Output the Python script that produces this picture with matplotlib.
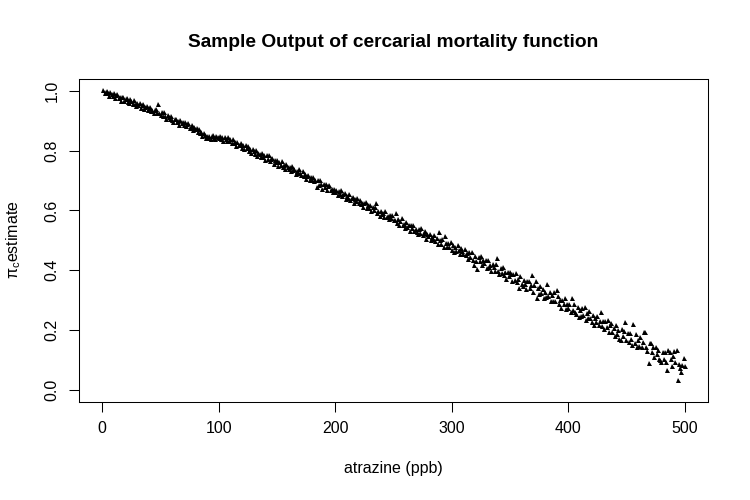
import matplotlib
matplotlib.use('Agg')

import matplotlib.pyplot as plt

plt.rcParams['font.family'] = ['Liberation Sans', 'DejaVu Sans']
plt.rcParams['mathtext.fontset'] = 'custom'
plt.rcParams['mathtext.rm'] = 'Liberation Sans'
plt.rcParams['mathtext.it'] = 'Liberation Sans'

# atrazine concentration (ppb) and the estimated cercarial mortality pi_c
atrazine = list(range(1, 501))
pi_c = [
    1.002, 0.991, 0.997, 0.998, 0.991, 0.983, 0.995, 0.988, 0.983, 0.991,
    0.977, 0.986, 0.989, 0.976, 0.978, 0.967, 0.978, 0.979, 0.967, 0.972,
    0.974, 0.963, 0.958, 0.971, 0.964, 0.956, 0.969, 0.956, 0.950, 0.959,
    0.951, 0.958, 0.942, 0.951, 0.956, 0.940, 0.944, 0.948, 0.934, 0.943,
    0.945, 0.932, 0.937, 0.925, 0.937, 0.940, 0.924, 0.957, 0.925, 0.919,
    0.928, 0.915, 0.928, 0.916, 0.907, 0.919, 0.913, 0.904, 0.915, 0.903,
    0.896, 0.905, 0.907, 0.895, 0.899, 0.887, 0.902, 0.891, 0.896, 0.884,
    0.895, 0.882, 0.888, 0.892, 0.876, 0.880, 0.885, 0.870, 0.880, 0.872,
    0.876, 0.863, 0.873, 0.860, 0.862, 0.849, 0.859, 0.851, 0.843, 0.849,
    0.842, 0.849, 0.839, 0.847, 0.851, 0.843, 0.838, 0.848, 0.846, 0.841,
    0.849, 0.839, 0.844, 0.833, 0.846, 0.838, 0.831, 0.844, 0.832, 0.837,
    0.824, 0.839, 0.826, 0.830, 0.815, 0.829, 0.817, 0.820, 0.826, 0.810,
    0.817, 0.804, 0.817, 0.807, 0.816, 0.799, 0.804, 0.791, 0.804, 0.798,
    0.789, 0.801, 0.781, 0.793, 0.789, 0.779, 0.793, 0.780, 0.786, 0.770,
    0.784, 0.771, 0.784, 0.764, 0.772, 0.774, 0.755, 0.769, 0.761, 0.769,
    0.750, 0.762, 0.753, 0.765, 0.746, 0.752, 0.738, 0.754, 0.746, 0.738,
    0.745, 0.731, 0.747, 0.734, 0.740, 0.721, 0.733, 0.724, 0.737, 0.724,
    0.717, 0.731, 0.716, 0.722, 0.705, 0.714, 0.719, 0.702, 0.710, 0.703,
    0.712, 0.697, 0.701, 0.679, 0.701, 0.684, 0.702, 0.687, 0.672, 0.689,
    0.678, 0.689, 0.669, 0.680, 0.685, 0.667, 0.672, 0.661, 0.673, 0.663,
    0.669, 0.652, 0.664, 0.655, 0.667, 0.648, 0.655, 0.659, 0.639, 0.649,
    0.642, 0.654, 0.635, 0.643, 0.645, 0.625, 0.639, 0.632, 0.641, 0.624,
    0.636, 0.621, 0.625, 0.612, 0.624, 0.629, 0.609, 0.617, 0.608, 0.617,
    0.599, 0.610, 0.602, 0.611, 0.626, 0.592, 0.598, 0.583, 0.598, 0.587,
    0.593, 0.579, 0.597, 0.579, 0.583, 0.570, 0.585, 0.575, 0.585, 0.567,
    0.567, 0.592, 0.557, 0.570, 0.550, 0.563, 0.575, 0.550, 0.556, 0.542,
    0.560, 0.544, 0.550, 0.532, 0.551, 0.540, 0.552, 0.530, 0.538, 0.529,
    0.522, 0.537, 0.526, 0.540, 0.517, 0.525, 0.530, 0.505, 0.521, 0.514,
    0.520, 0.501, 0.512, 0.504, 0.518, 0.497, 0.508, 0.488, 0.528, 0.500,
    0.489, 0.504, 0.479, 0.515, 0.492, 0.477, 0.492, 0.479, 0.493, 0.468,
    0.485, 0.461, 0.477, 0.466, 0.485, 0.467, 0.456, 0.474, 0.465, 0.454,
    0.472, 0.451, 0.459, 0.439, 0.460, 0.446, 0.462, 0.436, 0.418, 0.447,
    0.431, 0.405, 0.446, 0.430, 0.448, 0.418, 0.434, 0.425, 0.435, 0.408,
    0.433, 0.410, 0.419, 0.398, 0.421, 0.411, 0.397, 0.421, 0.441, 0.397,
    0.386, 0.408, 0.392, 0.411, 0.383, 0.395, 0.371, 0.394, 0.382, 0.394,
    0.386, 0.363, 0.387, 0.369, 0.390, 0.361, 0.372, 0.340, 0.381, 0.355,
    0.349, 0.368, 0.354, 0.337, 0.365, 0.365, 0.340, 0.352, 0.385, 0.328,
    0.351, 0.365, 0.308, 0.341, 0.320, 0.348, 0.323, 0.339, 0.307, 0.326,
    0.311, 0.355, 0.313, 0.328, 0.296, 0.319, 0.298, 0.326, 0.299, 0.334,
    0.314, 0.286, 0.301, 0.274, 0.302, 0.286, 0.306, 0.271, 0.286, 0.274,
    0.289, 0.262, 0.308, 0.268, 0.289, 0.260, 0.254, 0.279, 0.245, 0.269,
    0.248, 0.274, 0.252, 0.276, 0.234, 0.257, 0.239, 0.265, 0.242, 0.226,
    0.251, 0.218, 0.242, 0.226, 0.248, 0.218, 0.232, 0.260, 0.214, 0.232,
    0.205, 0.230, 0.212, 0.234, 0.193, 0.216, 0.223, 0.194, 0.206, 0.181,
    0.216, 0.187, 0.199, 0.171, 0.167, 0.204, 0.182, 0.197, 0.227, 0.166,
    0.189, 0.161, 0.190, 0.169, 0.150, 0.220, 0.157, 0.187, 0.145, 0.167,
    0.146, 0.177, 0.145, 0.160, 0.195, 0.194, 0.145, 0.132, 0.090, 0.158,
    0.157, 0.127, 0.145, 0.111, 0.145, 0.122, 0.134, 0.105, 0.100, 0.094,
    0.127, 0.103, 0.127, 0.095, 0.067, 0.134, 0.127, 0.105, 0.080, 0.113,
    0.130, 0.094, 0.134, 0.033, 0.088, 0.072, 0.060, 0.085, 0.107, 0.080,
]

xticks = [0, 100, 200, 300, 400, 500]
yticks = [0.0, 0.2, 0.4, 0.6, 0.8, 1.0]

W, H = 750, 500
fig = plt.figure(figsize=(7.5, 5), dpi=100)
ax = fig.add_axes([79 / W, 1 - 402 / H, (708 - 79) / W, (402 - 78.7) / H])

ax.plot(atrazine, pi_c, linestyle='none', marker='^', markersize=3.6,
        markeredgewidth=0, color='black')

ax.set_xlim(-20, 520)
ax.set_ylim(-0.04, 1.04)
ax.set_xticks(xticks)
ax.set_xticklabels([str(t) for t in xticks])
ax.set_yticks(yticks)
ax.set_yticklabels(['%.1f' % t for t in yticks])
ax.tick_params(direction='out', length=6.9, width=0.75, pad=7,
               labelsize=11.5, colors='black')
plt.setp(ax.get_yticklabels(), rotation=90, va='center')
for s in ax.spines.values():
    s.set_linewidth(0.75)

fig.text(393.5 / W, 1 - 47 / H, 'Sample Output of cercarial mortality function',
         ha='center', va='baseline', fontsize=13.8, fontweight='bold')
fig.text(393.5 / W, 1 - 468 / H, 'atrazine (ppb)', ha='center', va='center',
         fontsize=11.5)
fig.text(14 / W, 1 - 240 / H, r'$\pi_c$estimate', ha='center', va='center',
         rotation=90, fontsize=11.5)

fig.savefig('out.png', dpi=100)
